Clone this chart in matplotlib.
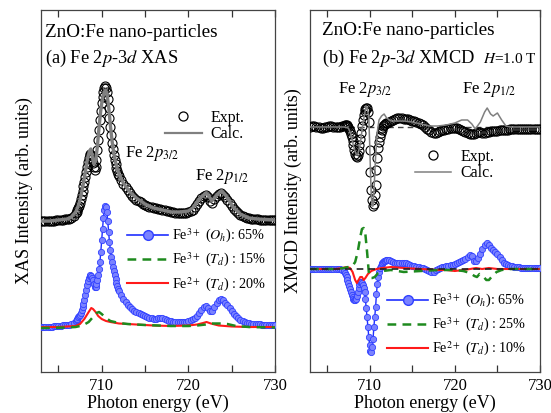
import numpy as np
import matplotlib
matplotlib.use("Agg")
import matplotlib.pyplot as plt
from matplotlib.lines import Line2D

plt.rcParams["font.family"] = ["Liberation Serif", "DejaVu Serif"]
plt.rcParams["mathtext.fontset"] = "stix"

# energy grid of the measured / Oh spectra: 0.25 eV, 0.1 eV across the L3 edge
grid = np.round(np.concatenate([np.arange(703.0, 707.01, 0.25),
                                np.arange(707.1, 712.01, 0.1),
                                np.arange(712.25, 730.01, 0.25)]), 2)

# ---- (a) XAS ----
xas_expt = [151, 151, 151, 151, 151, 151, 151, 152, 152, 152, 152, 153, 153, 153, 154, 156, 159,
            160, 162, 164, 166, 169, 173, 177, 181, 186, 190,
            195, 200, 205, 210, 214, 217, 218, 217, 213, 209,
            205, 202, 205, 212, 222, 232, 242, 252, 261, 269,
            275, 280, 284, 286, 284, 280, 273, 264, 254, 245,
            237, 229, 223, 217, 212, 208, 204, 201, 198, 196,
            192, 188, 185, 182, 179, 176, 174, 172, 171, 170, 168, 167,
            166, 165, 165, 164, 164, 163, 163, 162, 162, 161, 161, 160,
            160, 159, 159, 159, 159, 159, 159, 160, 161, 162, 165, 168,
            171, 174, 176, 177, 175, 171, 169, 173, 176, 178, 179, 177,
            175, 172, 169, 166, 163, 161, 159, 157, 156, 155, 154, 154,
            153, 153, 153, 153, 152, 152, 152, 152, 152, 152, 152, 152]
xas_oh = [45, 45, 45, 45, 45, 45, 46, 46, 46, 46, 47, 47, 47, 47, 48, 49, 51,
          52, 53, 55, 56, 57, 59, 62, 65, 68, 72,
          77, 82, 87, 91, 94, 96, 97, 96, 94, 92,
          88, 85, 85, 88, 92, 97, 103, 110, 120, 132,
          143, 154, 162, 166, 165, 160, 151, 140, 130, 122,
          115, 110, 105, 101, 97, 93, 89, 86, 83, 81,
          77, 73, 70, 67, 65, 63, 61, 60, 59, 58, 57, 56,
          55, 54, 54, 53, 53, 54, 54, 54, 53, 52, 51, 51,
          50, 50, 50, 50, 50, 50, 50, 51, 52, 53, 54, 56,
          59, 62, 65, 66, 64, 61, 61, 65, 69, 72, 73, 72,
          69, 67, 64, 61, 58, 56, 54, 52, 51, 50, 49, 49,
          48, 48, 48, 48, 48, 47, 47, 47, 47, 47, 47, 47]

calc_a_e = [703.0, 704.0, 705.0, 706.0, 706.5, 707.0, 707.25, 707.5, 707.75, 708.0, 708.2, 708.4,
            708.6, 708.75, 708.9, 709.1, 709.3, 709.5, 709.7, 709.9, 710.1, 710.3, 710.45,
            710.6, 710.8, 711.0, 711.2, 711.4, 711.6, 711.8, 712.0, 712.5, 713.0, 713.5, 714.0,
            715.0, 716.0, 717.0, 718.0, 719.0, 720.0, 720.5, 721.0, 721.5, 722.0, 722.3, 722.7,
            723.0, 723.5, 723.8, 724.2, 724.6, 725.0, 725.5, 726.0, 727.0, 728.0, 730.0]
calc_a = [151, 151, 152, 153, 155, 160, 165, 172, 182, 194, 205, 215,
          221, 223, 216, 208, 211, 225, 245, 262, 274, 280, 282,
          279, 266, 247, 231, 219, 210, 203, 198, 189, 183, 178, 174,
          168, 164, 162, 160, 160, 161, 164, 170, 175, 179, 177, 171,
          174, 179, 181, 178, 173, 167, 162, 158, 154, 153, 152]
red_a_e = [703, 705, 706, 707, 707.5, 708.0, 708.5, 708.8, 709.0, 709.3, 709.6, 710.0, 710.5,
           711, 712, 713, 714, 716, 718, 720, 721, 721.7, 722.1, 722.6, 723.5, 725, 727, 730]
red_a = [45, 45, 45.5, 46, 48, 53, 60, 64, 63, 60, 56, 53, 51,
         50, 48.5, 48, 47.5, 46.5, 46, 46.5, 47.5, 49, 50, 48.5, 46.5, 45.5, 45, 45]
green_a_e = [703, 706, 707, 707.5, 708, 708.5, 709.0, 709.4, 709.7, 710.0, 710.5, 711.0, 712,
             713, 715, 718, 720, 721, 722, 722.5, 723, 724, 724.5, 725.5, 727, 730]
green_a = [44, 44.5, 45, 46, 47.5, 50, 55, 59, 60, 58, 54, 51, 49,
           48, 47, 46, 46, 46.5, 47.5, 48.5, 48.5, 48.5, 48, 46, 45, 44.5]

# ---- (b) XMCD ----
mcd_expt = [245, 246, 246, 245, 245, 244, 244, 245, 245, 246, 246, 245, 245, 245, 245, 246, 246,
            247, 247, 247, 246, 245, 243, 241, 238, 235, 231,
            227, 222, 218, 216, 215, 217, 221, 227, 233, 239,
            246, 252, 257, 261, 263, 264, 264, 260, 250, 222,
            200, 182, 172, 166, 168, 177, 187, 202, 214, 224,
            230, 235, 239, 242, 244, 246, 247, 248, 249, 249,
            250, 251, 252, 253, 254, 254, 254, 253, 253, 253, 252, 251,
            251, 250, 249, 248, 247, 245, 243, 242, 240, 239, 239, 240,
            241, 242, 242, 243, 243, 244, 244, 244, 244, 243, 242, 241,
            240, 239, 238, 238, 238, 239, 240, 240, 239, 239, 240, 240,
            241, 241, 241, 241, 242, 242, 242, 242, 242, 243, 243, 243,
            243, 243, 243, 243, 243, 243, 243, 243, 243, 243, 243, 243]
mcd_oh = [103, 103, 103, 103, 103, 103, 103, 103, 103, 103, 103, 103, 103, 103, 103, 102, 101,
          99, 97, 95, 92, 89, 86, 83, 80, 77, 75,
          73, 72, 72, 73, 76, 80, 84, 88, 90, 90,
          89, 87, 84, 80, 73, 64, 55, 45, 35, 27,
          21, 20, 25, 33, 45, 55, 65, 78, 88, 95,
          100, 104, 106, 108, 109, 110, 111, 111, 112, 112,
          112, 111, 110, 109, 109, 109, 109, 109, 109, 108, 107, 106,
          106, 105, 105, 104, 104, 103, 102, 101, 100, 100, 102, 103,
          104, 105, 105, 106, 106, 107, 107, 108, 109, 110, 111, 112,
          113, 115, 117, 116, 111, 111, 114, 118, 123, 127, 129, 127,
          124, 122, 120, 118, 115, 112, 109, 108, 107, 106, 106, 105,
          105, 105, 104, 104, 104, 104, 104, 104, 104, 104, 104, 104]

calc_b_e = [703, 706, 707, 707.5, 707.8, 708.1, 708.4, 708.6, 708.9, 709.2, 709.5, 709.7, 709.9,
            710.0, 710.1, 710.2, 710.3, 710.4, 710.5, 710.7, 710.9, 711.1, 711.4, 711.7, 712.0,
            712.5, 713, 714, 715, 716, 717, 718, 719, 720, 720.8, 721.5, 722.0, 722.4, 723.0,
            723.5, 723.8, 724.2, 724.5, 725.0, 725.5, 726.0, 726.5, 728, 730]
calc_b = [245, 245, 245, 244, 238, 226, 218, 217, 228, 248, 262, 265, 255,
          230, 200, 175, 166, 166, 180, 215, 240, 252, 256, 258, 254,
          251, 251, 251, 250, 248, 246, 246, 247, 249, 252, 252, 248, 243, 250,
          260, 264, 258, 256, 259, 252, 246, 245, 245, 245]
green_b_e = [703, 706, 707, 707.5, 708.0, 708.3, 708.6, 708.9, 709.1, 709.3, 709.5, 709.7, 709.9,
             710.1, 710.3, 710.6, 711.0, 711.5, 712.5, 714, 716, 718, 720, 721, 721.8, 722.3,
             722.6, 722.9, 723.3, 723.7, 724.0, 724.4, 724.9, 725.5, 726.5, 730]
green_b = [103, 103, 104, 105, 106, 110, 120, 135, 143, 144, 138, 120, 100,
           94, 94, 95, 99, 101, 102, 100, 101, 102, 102, 101, 99, 96,
           95, 98, 96, 92, 92, 96, 100, 102, 103, 103]
red_b_e = [703, 706, 706.8, 707.3, 707.7, 708.0, 708.3, 708.5, 708.7, 708.9, 709.1, 709.3, 709.5,
           709.8, 710.2, 710.8, 711.5, 712.5, 714, 716, 718, 719, 720, 721, 721.8, 722.5, 723.2,
           724, 725, 730]
red_b = [103, 103, 104, 105, 104, 100, 92, 89, 92, 95, 95, 92, 94,
         98, 101, 103, 104, 105, 104, 103, 102, 102, 101, 102, 103, 104, 103,
         104, 103, 103]

fig = plt.figure(figsize=(5.51, 4.13), dpi=100)
ax1 = fig.add_axes([41 / 551, 41 / 413, 234 / 551, 362 / 413])
ax2 = fig.add_axes([310 / 551, 41 / 413, 230 / 551, 362 / 413])

exp_kw = dict(ls="none", marker="o", ms=6.5, mfc="none", mec="black", mew=0.8)
blue_kw = dict(color="#1f2fff", marker="o", ms=4.5, mfc="#7a82ff", mec="#3040ff", mew=0.6, lw=1.0)
green_kw = dict(color="#1e8a1e", ls=(0, (3.5, 2.5)), lw=1.8)
red_kw = dict(color="#ff1a1a", lw=1.5)

# (a)
ax1.plot(grid, xas_expt, zorder=3, **exp_kw)
ax1.plot(calc_a_e, calc_a, color="#808080", lw=2.4, zorder=4)
ax1.plot(grid, xas_oh, zorder=3, **blue_kw)
ax1.plot(green_a_e, green_a, zorder=5, **green_kw)
ax1.plot(red_a_e, red_a, zorder=4, **red_kw)

# (b)
ax2.axhline(245, color="#444444", ls=(0, (4, 3)), lw=1.0, zorder=1)
ax2.axhline(103, color="#222222", ls=(0, (4, 3)), lw=1.2, zorder=6)
ax2.plot(grid, mcd_expt, zorder=3, **exp_kw)
ax2.plot(calc_b_e, calc_b, color="#808080", lw=1.1, zorder=4)
ax2.plot(grid, mcd_oh, zorder=3, **blue_kw)
ax2.plot(green_b_e, green_b, zorder=5, **green_kw)
ax2.plot(red_b_e, red_b, zorder=4, **red_kw)

for ax in (ax1, ax2):
    ax.set_xlim(703, 730)
    ax.set_ylim(0, 362)
    ax.set_yticks([])
    ax.set_xticks([705, 710, 715, 720, 725, 730])
    ax.set_xticklabels(["", "710", "", "720", "", "730"])
    ax.tick_params(axis="x", direction="in", top=True, length=5, width=0.9,
                   labelsize=12, color="#333333", pad=4)
    for s in ax.spines.values():
        s.set_color("#444444")
        s.set_linewidth(0.9)
    ax.set_xlabel("Photon energy (eV)", fontsize=13, labelpad=1)

ax1.set_ylabel("XAS Intensity (arb. units)", fontsize=13, labelpad=6)
ax2.set_ylabel("XMCD Intensity (arb. units)", fontsize=13, labelpad=6)

ax1.text(0.017, 0.925, "ZnO:Fe nano-particles", transform=ax1.transAxes, fontsize=13.8)
ax1.text(0.017, 0.853, r"(a) Fe 2$p$-3$d$ XAS", transform=ax1.transAxes, fontsize=13.2)
ax1.text(0.36, 0.594, r"Fe 2$p_{3/2}$", transform=ax1.transAxes, fontsize=12)
ax1.text(0.66, 0.530, r"Fe 2$p_{1/2}$", transform=ax1.transAxes, fontsize=12)

ax2.text(0.05, 0.930, "ZnO:Fe nano-particles", transform=ax2.transAxes, fontsize=13.8)
ax2.text(0.05, 0.853, r"(b) Fe 2$p$-3$d$ XMCD", transform=ax2.transAxes, fontsize=13.2)
ax2.text(0.985, 0.853, r"$H$=1.0 T", transform=ax2.transAxes, fontsize=11, ha="right")
ax2.text(0.12, 0.770, r"Fe 2$p_{3/2}$", transform=ax2.transAxes, fontsize=12)
ax2.text(0.66, 0.770, r"Fe 2$p_{1/2}$", transform=ax2.transAxes, fontsize=12)

exp_h = Line2D([], [], ls="none", marker="o", ms=6.5, mfc="white", mec="black", mew=0.9)
calc_a_h = Line2D([], [], color="#808080", lw=1.6)
calc_b_h = Line2D([], [], color="#808080", lw=1.1)
leg_kw = dict(frameon=False, fontsize=11.5, handlelength=2.3, handletextpad=0.55,
              labelspacing=0.05, borderpad=0, borderaxespad=0, loc="upper left")
ax1.add_artist(ax1.legend([exp_h, calc_a_h], ["Expt.", "Calc."],
                          bbox_to_anchor=(0.53, 0.725), **leg_kw))
ax2.add_artist(ax2.legend([exp_h, calc_b_h], ["Expt.", "Calc."],
                          bbox_to_anchor=(0.455, 0.617), **leg_kw))

oh_h = Line2D([], [], color="#1f2fff", marker="o", ms=7, mfc="#7a82ff", mec="#3040ff", lw=1.2)
g_h = Line2D([], [], **green_kw)
r_h = Line2D([], [], **red_kw)
leg2_kw = dict(frameon=False, fontsize=10.2, handlelength=2.9, handletextpad=0.3,
               labelspacing=0.42, borderpad=0, borderaxespad=0, loc="upper left")
ax1.legend([oh_h, g_h, r_h],
           [r"Fe$^{3+}$ ($O_h$): 65%", r"Fe$^{3+}$ ($T_d$) : 15%", r"Fe$^{2+}$ ($T_d$) : 20%"],
           bbox_to_anchor=(0.3675, 0.4), **leg2_kw)
ax2.legend([oh_h, g_h, r_h],
           [r"Fe$^{3+}$ ($O_h$): 65%", r"Fe$^{3+}$ ($T_d$) : 25%", r"Fe$^{2+}$ ($T_d$) : 10%"],
           bbox_to_anchor=(0.335, 0.222), **leg2_kw)

fig.savefig("out.png", dpi=100)
